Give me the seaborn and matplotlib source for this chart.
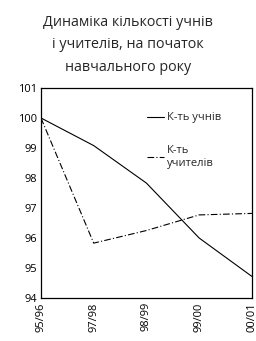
"""Dynamics of pupils and teachers count chart."""

import matplotlib

matplotlib.use("Agg")

import matplotlib.pyplot as plt
import pandas as pd
import seaborn as sns

years = ["95/96", "97/98", "98/99", "99/00", "00/01"]
pupils = [100.0, 99.08, 97.83, 96.0, 94.72]
teachers = [100.0, 95.83, 96.25, 96.77, 96.82]
series_names = ["К-ть учнів", "К-ть\nучителів"]

df = pd.DataFrame({"year": years, series_names[0]: pupils, series_names[1]: teachers})
long = df.melt(id_vars="year", var_name="series", value_name="value")

sns.set_theme(style="white")
plt.rcParams["font.family"] = ["Open Sans", "DejaVu Sans"]

fig = plt.figure(figsize=(2.56, 3.41), dpi=100)
ax = fig.add_axes([0.16, 0.126, 0.824, 0.616])

sns.lineplot(data=long, x="year", y="value", hue="series", style="series",
             palette=["black", "black"], dashes=[(None, None), (6, 2, 1, 2)],
             linewidth=0.8, ax=ax, sort=False)

ax.set_ylim(94, 101)
ax.set_xlim(0, len(years) - 1)
ax.set_yticks(range(94, 102))
ax.set_xlabel("")
ax.set_ylabel("")
ax.tick_params(axis="both", direction="in", length=3, width=0.8, colors="black",
               labelsize=8, pad=3)
ax.tick_params(axis="x", labelrotation=90)
for s in ax.spines.values():
    s.set_color("black")
    s.set_linewidth(0.9)

leg = ax.legend(loc="upper left", frameon=False, fontsize=8, handlelength=1.55,
                handletextpad=0.25, labelspacing=1.95, borderpad=0,
                bbox_to_anchor=(0.475, 0.91))
for line in leg.get_lines():
    line.set_linewidth(0.8)

fig.suptitle("Динаміка кількості учнів\nі учителів, на початок\nнавчального року",
             y=0.957, fontsize=10.3, linespacing=1.7)

fig.savefig("out.png", dpi=100)
